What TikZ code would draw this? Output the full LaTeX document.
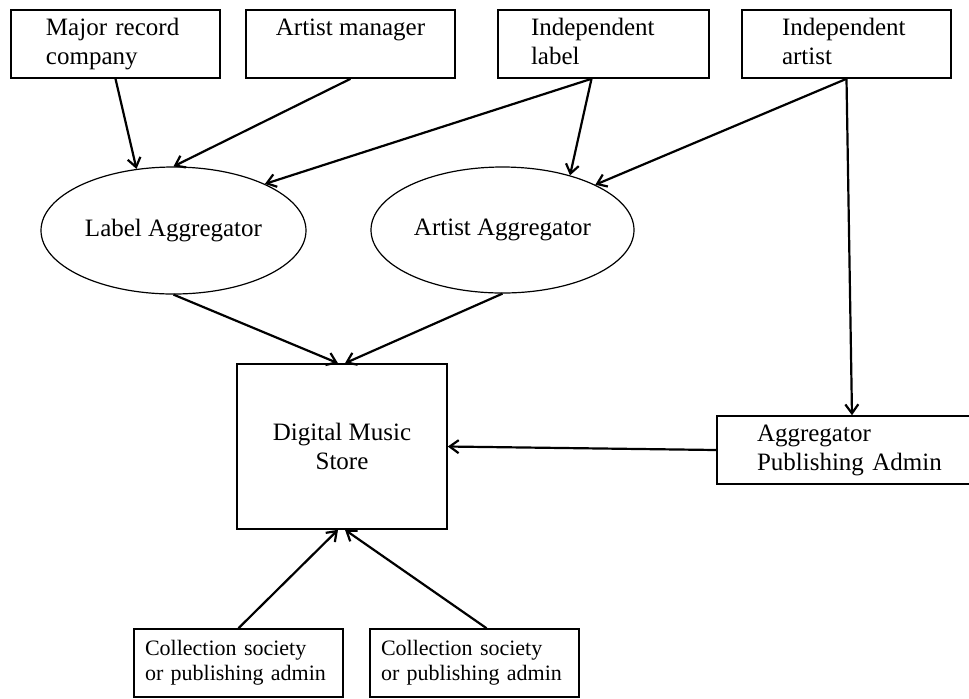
\documentclass[tikz,border=0pt]{standalone}
\usepackage{fontspec}
\setmainfont{Liberation Serif}
\usepackage{tikz}
\usetikzlibrary{shapes.geometric}
\usetikzlibrary{arrows.meta}
\tikzstyle{BoxNode}=[rectangle,draw=black,line width=0.8pt,align=left,inner ysep=2.5pt,
minimum width=104.5pt,minimum height=34pt,font=\fontsize{12.5}{14.5}\selectfont]
\tikzstyle{SmallBox}=[BoxNode,font=\fontsize{11}{12.5}\selectfont]
\tikzstyle{AggNode}=[ellipse,draw=black,line width=0.6pt,inner sep=0pt,minimum width=132.5pt,
minimum height=63.5pt,font=\fontsize{12.5}{14.5}\selectfont]
\tikzstyle{EdgeArrow}=[black,line width=1.1pt,-{Straight Barb[length=4.5pt,width=6.5pt]}]

\begin{document}
\begin{tikzpicture}[x=0.5pt,y=-0.5pt]
        \useasboundingbox(0,0)rectangle(969,698);
        \node[BoxNode,text width=69.5pt](major)at(115.5,44){Major record\strut\\company\strut};
        \node[BoxNode](manager)at(350.5,44){Artist manager\strut\\\strut};
        \node[BoxNode,minimum width=105.5pt,text width=72.5pt](indlabel)at(603.5,44){Independent\strut\\label\strut};
        \node[BoxNode,text width=64.5pt](indartist)at(846.5,44){Independent\strut\\artist\strut};
        \node[AggNode](labelagg)at(173.5,230.5){Label Aggregator};
        \node[AggNode,minimum width=131.5pt,minimum height=63pt](artistagg)at(502.5,230){Artist Aggregator};
        \node[BoxNode,align=center,minimum width=105pt,minimum height=82.5pt](store)at(342,446.5){Digital Music\\Store};
        \node[BoxNode,minimum width=140pt,text width=100pt](pubadmin)at(857,450){Aggregator\strut\\Publishing Admin\strut};
        \node[SmallBox,text width=93.5pt](collA)at(238.5,663){Collection society\strut\\or publishing admin\strut};
        \node[SmallBox,text width=93.5pt](collB)at(474.5,663){Collection society\strut\\or publishing admin\strut};
        \draw[EdgeArrow](major.south)--(labelagg.121);
        \draw[EdgeArrow](manager.south)--(labelagg.north);
        \draw[EdgeArrow]([xshift=-6pt]indlabel.south)--(labelagg.27);
        \draw[EdgeArrow]([xshift=-6pt]indlabel.south)--(artistagg.39);
        \draw[EdgeArrow](indartist.south)--(artistagg.26);
        \draw[EdgeArrow](indartist.south)--([xshift=-2.5pt]pubadmin.north);
        \draw[EdgeArrow](labelagg.south)--([xshift=-2pt]store.north);
        \draw[EdgeArrow](artistagg.south)--([xshift=1.5pt]store.north);
        \draw[EdgeArrow](pubadmin.west)--(store.east);
        \draw[EdgeArrow](collA.north)--([xshift=-2pt]store.south);
        \draw[EdgeArrow]([xshift=6pt]collB.north)--([xshift=1.5pt]store.south);
    \end{tikzpicture}
\end{document}
